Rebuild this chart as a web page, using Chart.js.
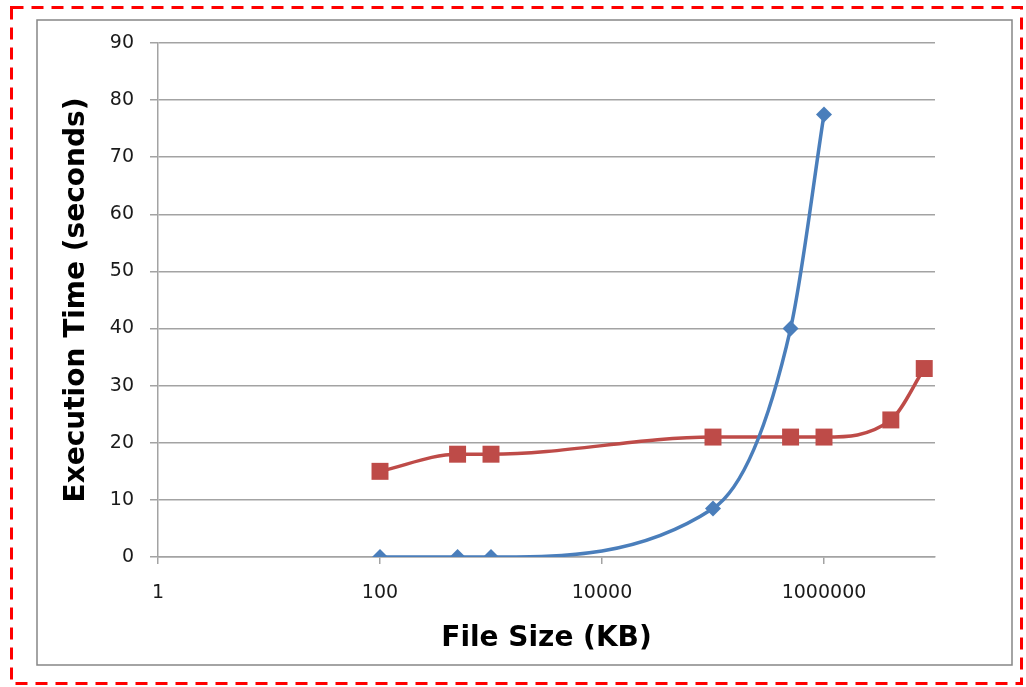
<!DOCTYPE html>
<html>
<head>
<meta charset="utf-8">
<script src="https://cdn.jsdelivr.net/npm/chart.js@4.4.1/dist/chart.umd.min.js"></script>
<style>
  html, body { margin: 0; padding: 0; background: #fff; }
  #wrap { width: 1026px; height: 687px; position: relative; }
</style>
</head>
<body>
<div id="wrap"><canvas id="chart_exec"></canvas></div>
<script>
// file sizes (KB) and execution times (s)
const sizes1 = [100, 500, 1000, 100000, 500000, 1000000];
const times1 = [0, 0, 0, 8.5, 40, 77.5];
const sizes2 = [100, 500, 1000, 100000, 500000, 1000000, 4000000, 8000000];
const times2 = [15, 18, 18, 21, 21, 21, 24, 33];
const xTicks = [1, 100, 10000, 1000000];

function toPoints(xs, ys) {
  return xs.map((x, i) => ({ x: x, y: ys[i] }));
}

// red dashed outer box + grey chart frame
const framePlugin = {
  id: "frames",
  beforeDraw(chart) {
    const ctx = chart.ctx;
    ctx.save();
    ctx.fillStyle = "#fff";
    ctx.fillRect(0, 0, chart.width, chart.height);
    ctx.strokeStyle = "#868686";
    ctx.lineWidth = 1.5;
    ctx.strokeRect(37, 20, 975, 645);
    ctx.restore();
  },
  afterDraw(chart) {
    const ctx = chart.ctx;
    ctx.save();
    ctx.strokeStyle = "#ff0000";
    ctx.lineWidth = 3;
    ctx.setLineDash([12, 8]);
    ctx.strokeRect(11.5, 7.5, 1010, 676);
    ctx.restore();
  },
};

const gridGrey = "#a3a3a3";
const tickFont = { family: "DejaVu Sans", size: 19 };
const titleFont = { family: "DejaVu Sans", size: 28, weight: "bold" };

var ctx = document.getElementById("chart_exec").getContext("2d");
var myChart = new Chart(ctx, {
  type: "line",
  data: {
    datasets: [
      {
        label: "Series1",
        data: toPoints(sizes1, times1),
        borderColor: "#4a7ebb",
        backgroundColor: "#4a7ebb",
        borderWidth: 3.5,
        pointStyle: "rectRot",
        pointRadius: 8,
        pointBorderWidth: 0,
        cubicInterpolationMode: "monotone",
      },
      {
        label: "Series2",
        data: toPoints(sizes2, times2),
        borderColor: "#be4b48",
        backgroundColor: "#be4b48",
        borderWidth: 3.5,
        pointStyle: "rect",
        pointRadius: 12,
        pointBorderWidth: 0,
        cubicInterpolationMode: "monotone",
      },
    ],
  },
  options: {
    animation: false,
    responsive: true,
    maintainAspectRatio: false,
    layout: {
      padding: { left: 0, top: 43, right: 91, bottom: 0 },
    },
    plugins: {
      legend: { display: false },
      tooltip: { enabled: false },
    },
    scales: {
      x: {
        type: "logarithmic",
        min: 1,
        max: 10000000,
        afterBuildTicks: function (scale) {
          scale.ticks = xTicks.map((v) => ({ value: v }));
        },
        afterFit: function (scale) {
          scale.height = 130;
        },
        ticks: {
          autoSkip: false,
          maxRotation: 0,
          padding: 18,
          color: "#1a1a1a",
          font: tickFont,
          callback: function (value) {
            return String(value);
          },
        },
        grid: {
          drawOnChartArea: false,
          drawTicks: true,
          tickLength: 7,
          color: gridGrey,
          lineWidth: 1.5,
        },
        border: { display: true, color: gridGrey, width: 1.5 },
        title: {
          display: true,
          text: "File Size (KB)",
          color: "#000",
          font: titleFont,
          padding: { top: 0, bottom: 31 },
        },
      },
      y: {
        min: 0,
        max: 90,
        afterFit: function (scale) {
          scale.width = 158;
        },
        ticks: {
          stepSize: 10,
          padding: 16,
          color: "#1a1a1a",
          font: tickFont,
        },
        grid: {
          color: gridGrey,
          lineWidth: 1.5,
          tickLength: 8,
        },
        border: { display: true, color: gridGrey, width: 1.5 },
        title: {
          display: true,
          text: "Execution Time (seconds)",
          color: "#000",
          font: titleFont,
          padding: { top: 60, bottom: 0 },
        },
      },
    },
  },
  plugins: [framePlugin],
});
</script>
</body>
</html>
